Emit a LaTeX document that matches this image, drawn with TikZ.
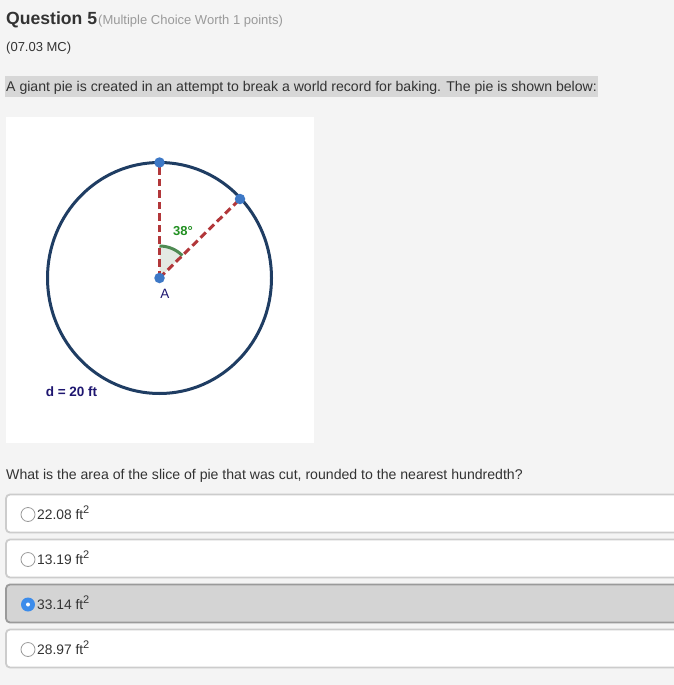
\documentclass[tikz,border=0pt]{standalone}
\usepackage{fontspec}
\setmainfont{Liberation Sans}
\usetikzlibrary{calc}
\definecolor{pagebg}{HTML}{F4F4F4}
\definecolor{hilite}{HTML}{D7D7D7}
\definecolor{txt}{HTML}{333333}
\definecolor{subtxt}{HTML}{9A9A9A}
\definecolor{navy}{HTML}{1F3D63}
\definecolor{cutred}{HTML}{B2373A}
\definecolor{dotblue}{HTML}{3D78C6}
\definecolor{anggreen}{HTML}{4E8A52}
\definecolor{angfill}{HTML}{E3EAE3}
\definecolor{labgreen}{HTML}{229022}
\definecolor{labnavy}{HTML}{1E1670}
\definecolor{optborder}{HTML}{CCCCCC}
\definecolor{selfill}{HTML}{D4D4D4}
\definecolor{selborder}{HTML}{9A9A9A}
\definecolor{radioblue}{HTML}{3C8CEB}
\tikzset{
  qtext/.style={anchor=base west, inner sep=0pt, text=txt, font=\fontsize{14.1}{16}\selectfont},
  opttext/.style={anchor=base west, inner sep=0pt, text=txt, font=\fontsize{13.8}{16}\selectfont},
  optbox/.style={draw=optborder, line width=1.8pt, fill=white, rounded corners=4pt},
  selbox/.style={draw=selborder, line width=1.8pt, fill=selfill, rounded corners=4pt},
  radio/.style={circle, draw=selborder, fill=white, line width=0.8pt, minimum size=14pt, inner sep=0pt},
  radiosel/.style={circle, fill=radioblue, minimum size=14pt, inner sep=0pt},
  cutline/.style={draw=cutred, line width=3pt, dash pattern=on 7.5pt off 4pt},
  pdot/.style={circle, fill=dotblue, minimum size=10.5pt, inner sep=0pt},
}
\begin{document}
\begin{tikzpicture}[x=1pt,y=-1pt]
\useasboundingbox (0,0) rectangle (674,685);
\fill[pagebg] (0,0) rectangle (674,685);
\clip (0,0) rectangle (674,685);
% header
\node[anchor=base west, inner sep=0pt, text=txt, font=\fontsize{17.6}{20}\selectfont\bfseries] (q5) at (6,25) {Question 5};
\node[anchor=base west, inner sep=0pt, text=subtxt, font=\fontsize{13}{15}\selectfont] (mc) at (98,25) {(Multiple Choice Worth 1 points)};
\node[qtext, font=\fontsize{13}{15}\selectfont] (code) at (6,52) {(07.03 MC)};
\fill[hilite] (5,76) rectangle (598,97);
\node[qtext] (stem) at (6,92) {A giant pie is created in an attempt to break a world record for baking. The pie is shown below:};
% figure panel
\fill[white] (6,117) rectangle (314,443);
\draw[navy, line width=3pt] (159.5,278) ellipse [x radius=112, y radius=115.5];
\coordinate (A) at (159.5,278);
\coordinate (T) at (159.5,162.5);
\coordinate (P) at (240,199);
\coordinate (S) at (159.5,246);
\fill[angfill] (A) -- (S) arc[start angle=-90, end angle=-44.6, radius=32] -- cycle;
\draw[anggreen, line width=3pt] (S) arc[start angle=-90, end angle=-44.6, radius=32];
\draw[cutline] (A) -- (T);
\draw[cutline] (A) -- (P);
\node[pdot] (dT) at (T) {};
\node[pdot] (dP) at (P) {};
\node[pdot] (dA) at (A) {};
\node[text=labgreen, font=\fontsize{13}{15}\selectfont\bfseries, inner sep=0pt] (ang) at (183,231) {38°};
\node[text=labnavy, font=\fontsize{13.5}{15}\selectfont, inner sep=0pt] (lA) at (165,294) {A};
\node[text=labnavy, font=\fontsize{13.5}{15}\selectfont\bfseries, inner sep=0pt] (d) at (71.5,392) {d = 20 ft};
% question
\node[qtext] (ask) at (6,479) {What is the area of the slice of pie that was cut, rounded to the nearest hundredth?};
% options
\draw[optbox] (6,494.5) rectangle (690,532.5);
\draw[optbox] (6,539.5) rectangle (690,577.5);
\draw[selbox] (6,584.5) rectangle (690,622.5);
\draw[optbox] (6,629.5) rectangle (690,667.5);
\node[radio] (r1) at (28,514.5) {};
\node[radio] (r2) at (28,559.5) {};
\node[radiosel] (r3) at (28,604.5) {};
\fill[white] (r3.center) circle (2);
\node[radio] (r4) at (28,649.5) {};
\node[opttext] (o1) at (37,519) {22.08 ft\textsuperscript{\fontsize{11}{12}\selectfont 2}};
\node[opttext] (o2) at (37,564) {13.19 ft\textsuperscript{\fontsize{11}{12}\selectfont 2}};
\node[opttext] (o3) at (37,609) {33.14 ft\textsuperscript{\fontsize{11}{12}\selectfont 2}};
\node[opttext] (o4) at (37,654) {28.97 ft\textsuperscript{\fontsize{11}{12}\selectfont 2}};
\end{tikzpicture}
\end{document}
